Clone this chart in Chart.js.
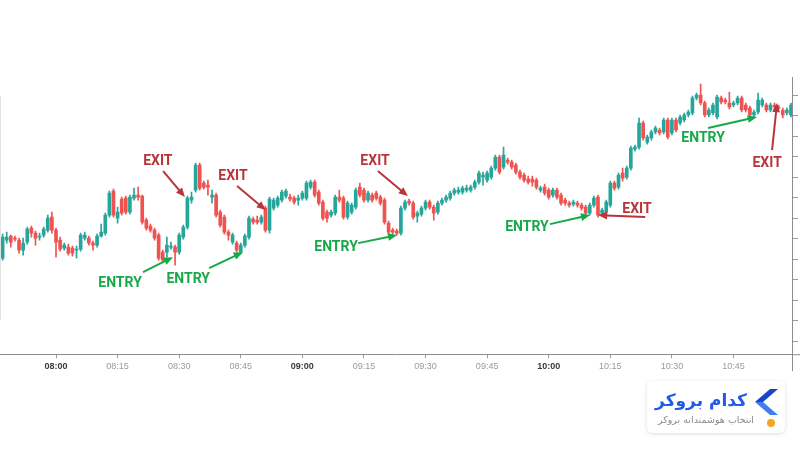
<!DOCTYPE html>
<html>
<head>
<meta charset="utf-8">
<script src="https://cdn.jsdelivr.net/npm/chart.js@4.4.1/dist/chart.umd.min.js"></script>
<style>
  body { margin: 0; background: #fff; }
  #wrap { position: relative; width: 800px; height: 450px; overflow: hidden; background: #fff; }
  #chart { position: absolute; left: 0; top: 0; }
  .edge { position: absolute; left: 0; top: 96px; width: 1px; height: 224px; background: #e4e4e4; }
  .logo { position: absolute; left: 647px; top: 381px; width: 138px; height: 52px; background: #fff;
          border-radius: 6px; box-shadow: 0 1px 4px rgba(0,0,0,0.13); }
  .brand { position: absolute; right: 38px; top: 7px; font: bold 17px "DejaVu Sans", sans-serif;
           color: #1f5ae8; line-height: 24px; white-space: nowrap; }
  .tag { position: absolute; right: 31px; top: 33px; font: 9.5px "DejaVu Sans", sans-serif;
         color: #8a8a8a; white-space: nowrap; }
  .mark { position: absolute; left: 107px; top: 8px; }
  .dot { position: absolute; left: 120px; top: 38px; width: 8px; height: 8px; border-radius: 50%; background: #f6a523; }
</style>
</head>
<body>
<div id="wrap">
  <canvas id="chart" width="800" height="380"></canvas>
  <div class="edge"></div>
  <div class="logo">
    <div class="brand" dir="rtl">کدام بروکر</div>
    <div class="tag" dir="rtl">انتخاب هوشمندانه بروکر</div>
    <svg class="mark" width="24" height="26" viewBox="0 0 24 26">
      <polygon points="16,0 24,0 9,13 1,13" fill="#1846c9"/>
      <polygon points="1,13 9,13 24,26 16,26" fill="#3f7df3"/>
    </svg>
    <span class="dot"></span>
  </div>
</div>

<script>
// 1 minute candles, first one at 07:47
var startMinute = 467;

var opens = [
  102,120,124,122,120,110,118,132,127,123,
  125,130,143,130,120,112,113,112,110,111,
  122,122,117,115,124,127,145,169,142,161,
  162,148,162,165,164,140,134,130,125,108,
  108,113,113,108,123,133,160,170,195,177,
  175,163,165,148,143,128,
  118,117,108,115,123,141,140,138,152,130,
  152,155,160,164,163,162,160,162,162,173,
  178,168,158,148,145,147,163,162,143,148,
  153,173,170,160,165,167,163,160,137,130,
  129,127,152,159,157,144,146,152,158,153,
  148,157,160,162,167,168,168,170,170,173,
  178,183,180,183,192,203,193,200,198,195,
  188,185,181,181,180,170,173,170,165,170,
  165,160,157,156,157,155,153,147,155,163,
  147,148,155,177,173,187,183,192,211,
  213,237,218,222,228,230,228,240,227,240,
  237,240,245,247,262,265,257,245,247,243,
  262,260,257,255,257,262,255,252,245,248,
  255,255,250,255,253,250,247,245
];
var highs = [
  126,128,125,124,122,122,133,134,129,127,
  133,145,148,132,123,117,116,114,114,127,
  128,124,119,126,136,147,169,171,153,163,
  164,165,172,173,165,142,136,132,127,110,
  123,118,115,127,135,164,168,197,197,179,
  180,170,167,150,145,130,
  127,119,117,126,144,143,144,145,154,163,
  162,164,170,171,166,164,165,169,179,180,
  180,170,160,150,150,165,170,164,159,157,
  172,177,172,169,167,169,165,162,139,132,
  131,154,160,161,159,149,154,160,160,155,
  159,162,165,169,172,173,174,175,175,180,
  189,188,189,194,205,205,213,202,200,197,
  190,187,184,184,182,174,176,172,172,172,
  167,162,159,160,159,157,155,157,164,165,
  152,160,179,179,187,192,194,214,215,
  242,239,225,230,234,232,242,242,242,242,
  245,247,250,264,267,276,259,252,257,265,
  264,262,268,259,264,264,257,254,250,267,
  262,257,257,257,255,252,252,257
];
var lows = [
  100,117,113,119,107,105,116,123,115,120,
  123,128,127,103,109,110,105,104,102,109,
  120,115,110,113,123,125,143,143,137,145,
  146,146,160,160,136,130,128,120,100,98,
  103,111,95,106,121,131,157,168,170,171,
  165,157,143,133,126,120,
  116,108,106,113,121,136,136,136,128,127,
  150,153,158,162,159,156,155,160,160,171,
  163,155,140,138,143,145,158,141,141,146,
  151,163,158,158,158,160,155,136,126,126,
  125,125,150,155,141,138,144,150,151,140,
  146,155,158,160,165,166,166,168,168,171,
  176,175,178,181,190,186,191,196,191,186,
  181,178,176,174,171,168,165,161,163,161,
  155,155,153,154,153,150,145,145,153,143,
  145,146,153,170,171,179,181,190,209,
  211,220,216,220,226,225,226,221,225,228,
  235,238,243,245,260,255,243,243,245,241,
  256,256,251,253,255,248,248,243,243,246,
  253,248,248,251,250,242,245,243
];
var closes = [
  123,123,118,121,110,117,131,127,122,124,
  131,142,130,118,111,115,107,107,111,125,
  125,117,115,124,128,145,167,145,148,147,
  148,163,165,163,138,132,130,122,102,100,
  115,114,108,125,133,162,163,195,172,173,
  173,165,145,135,128,125,
  125,110,115,124,142,138,138,143,130,161,
  160,162,168,169,161,158,162,167,177,178,
  165,157,142,142,148,163,160,143,157,155,
  170,165,160,167,160,162,157,138,128,128,
  127,152,158,157,143,147,152,158,153,147,
  157,160,163,167,170,170,172,172,173,178,
  187,185,187,192,203,188,205,198,193,188,
  183,180,178,178,173,172,167,163,170,163,
  157,157,155,158,155,152,147,155,162,145,
  150,158,177,172,185,182,192,212,213,
  237,222,223,228,232,227,240,223,240,230,
  243,245,248,262,265,257,245,250,255,263,
  258,258,253,257,262,250,250,245,248,260,
  260,250,255,253,252,245,250,255
];

var timeLabels = ['08:00','08:15','08:30','08:45','09:00','09:15','09:30','09:45','10:00','10:15','10:30','10:45'];
var priceTicks = [265, 244.5, 224, 203.5, 183, 162.5, 142, 121.5, 101, 80.5, 60, 39.5, 19];

// trade marks: label position, arrow start, arrow tip  [minute, price]
var notes = [
  { text: 'EXIT',  side: 'exit',  label: [504.8, 199], from: [506.1, 189], to: [511.4, 163] },
  { text: 'ENTRY', side: 'entry', label: [495.6, 77],  from: [501.2, 88],  to: [508.5, 103] },
  { text: 'ENTRY', side: 'entry', label: [512.2, 81],  from: [517.3, 92],  to: [525.5, 108] },
  { text: 'EXIT',  side: 'exit',  label: [523.1, 184], from: [524.1, 174], to: [531.1, 150] },
  { text: 'EXIT',  side: 'exit',  label: [557.7, 199], from: [558.4, 189], to: [565.7, 164] },
  { text: 'ENTRY', side: 'entry', label: [548.2, 113], from: [553.6, 117], to: [563.1, 125] },
  { text: 'ENTRY', side: 'entry', label: [594.7, 133], from: [600.3, 136], to: [610.1, 145] },
  { text: 'EXIT',  side: 'exit',  label: [621.5, 151], from: [623.5, 143], to: [612.0, 145] },
  { text: 'ENTRY', side: 'entry', label: [637.6, 222], from: [638.8, 232], to: [650.7, 243] },
  { text: 'EXIT',  side: 'exit',  label: [653.2, 197], from: [654.4, 210], to: [655.6, 257] }
];

var upColor = '#26a69a';
var downColor = '#ef5350';

function toMinutes(s) {
  var p = s.split(':');
  return parseInt(p[0]) * 60 + parseInt(p[1]);
}
var tickMinutes = timeLabels.map(toMinutes);

var bodies = opens.map(function(o, i) { return { x: startMinute + i, y: [o, closes[i]] }; });
var wicks = opens.map(function(o, i) { return { x: startMinute + i, y: [lows[i], highs[i]] }; });

function candleColor(ctx) {
  var i = ctx.dataIndex;
  return closes[i] >= opens[i] ? upColor : downColor;
}

// arrows + ENTRY / EXIT text
var tradeNotes = {
  id: 'tradeNotes',
  afterDatasetsDraw: function(chart) {
    var c = chart.ctx;
    var xs = chart.scales.x, ys = chart.scales.y;
    c.save();
    notes.forEach(function(n) {
      var col = n.side === 'exit' ? '#b8353b' : '#18a84a';
      var x1 = xs.getPixelForValue(n.from[0]), y1 = ys.getPixelForValue(n.from[1]);
      var x2 = xs.getPixelForValue(n.to[0]),   y2 = ys.getPixelForValue(n.to[1]);
      var ang = Math.atan2(y2 - y1, x2 - x1);
      var head = 10;
      c.strokeStyle = col;
      c.fillStyle = col;
      c.lineWidth = 2;
      c.beginPath();
      c.moveTo(x1, y1);
      c.lineTo(x2 - Math.cos(ang) * head * 0.8, y2 - Math.sin(ang) * head * 0.8);
      c.stroke();
      c.beginPath();
      c.moveTo(x2, y2);
      c.lineTo(x2 - head * Math.cos(ang - 0.4), y2 - head * Math.sin(ang - 0.4));
      c.lineTo(x2 - head * Math.cos(ang + 0.4), y2 - head * Math.sin(ang + 0.4));
      c.closePath();
      c.fill();
      c.font = 'bold 14px Roboto, "Liberation Sans", sans-serif';
      c.textAlign = 'center';
      c.textBaseline = 'middle';
      c.fillText(n.text, xs.getPixelForValue(n.label[0]), ys.getPixelForValue(n.label[1]));
    });
    // price column separator running below the time axis
    c.strokeStyle = '#8d8d8d';
    c.lineWidth = 1;
    c.beginPath();
    c.moveTo(chart.chartArea.right + 0.5, chart.chartArea.bottom);
    c.lineTo(chart.chartArea.right + 0.5, chart.chartArea.bottom + 17);
    c.moveTo(chart.chartArea.right, chart.chartArea.bottom + 0.5);
    c.lineTo(800, chart.chartArea.bottom + 0.5);
    c.stroke();
    c.restore();
  }
};

var ctx = document.getElementById('chart').getContext('2d');
var chart = new Chart(ctx, {
  type: 'bar',
  data: {
    datasets: [
      {
        label: 'body',
        data: bodies,
        backgroundColor: candleColor,
        borderWidth: 0,
        barThickness: 3,
        minBarLength: 1,
        grouped: false
      },
      {
        label: 'wick',
        data: wicks,
        backgroundColor: candleColor,
        borderWidth: 0,
        barThickness: 1,
        grouped: false
      }
    ]
  },
  options: {
    responsive: false,
    animation: false,
    layout: { padding: { top: 77, right: 2, bottom: 5, left: 0 } },
    plugins: { legend: { display: false }, tooltip: { enabled: false } },
    scales: {
      x: {
        type: 'linear',
        min: 466.36,
        max: 659.25,
        offset: false,
        afterBuildTicks: function(scale) {
          scale.ticks = tickMinutes.map(function(v) { return { value: v }; });
        },
        ticks: {
          padding: 3,
          maxRotation: 0,
          autoSkip: false,
          callback: function(value, index) { return timeLabels[index]; },
          color: function(c) { return c.tick && c.tick.value % 60 === 0 ? '#3a3a3a' : '#9a9a9a'; },
          font: function(c) {
            return { family: '"Liberation Sans", Arial, sans-serif', size: 9,
                     weight: c.tick && c.tick.value % 60 === 0 ? 'bold' : 'normal' };
          }
        },
        grid: { display: true, drawOnChartArea: false, offset: false, tickLength: 4, color: '#9a9a9a' },
        border: { display: true, color: '#8d8d8d', width: 1 }
      },
      y: {
        position: 'right',
        min: 6,
        max: 283,
        afterBuildTicks: function(scale) {
          scale.ticks = priceTicks.map(function(v) { return { value: v }; });
        },
        ticks: { display: false },
        grid: { display: true, drawOnChartArea: false, tickLength: 6, color: '#9a9a9a' },
        border: { display: true, color: '#8d8d8d', width: 1 }
      }
    }
  },
  plugins: [tradeNotes]
});
</script>
</body>
</html>
